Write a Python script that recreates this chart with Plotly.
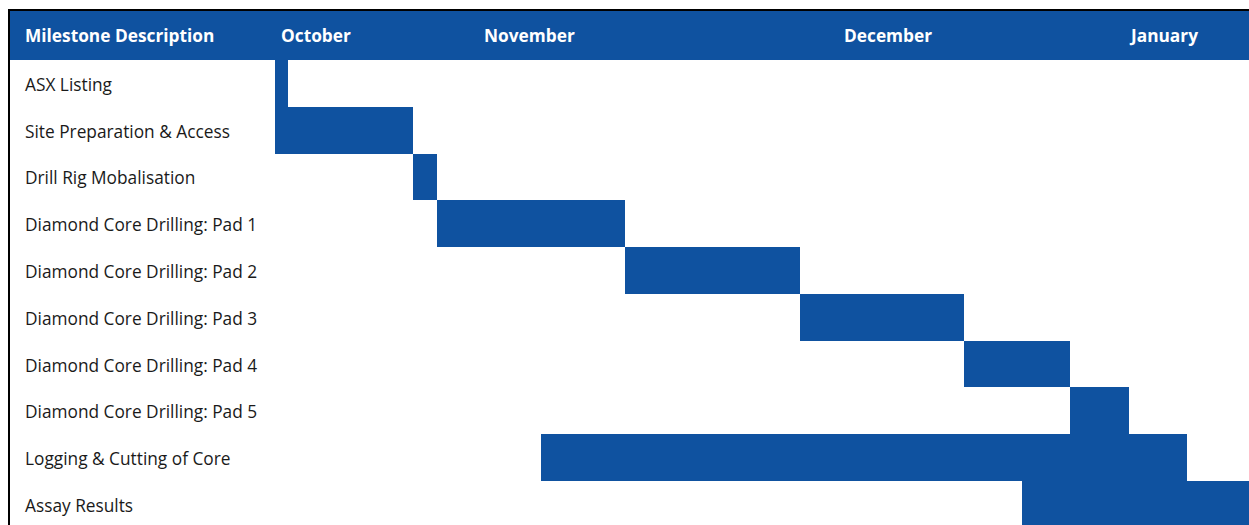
import plotly.graph_objects as go

# Milestones (top to bottom) and their timeline spans (programme timeline units, 0-100)
milestones = [
    "ASX Listing",
    "Site Preparation & Access",
    "Drill Rig Mobalisation",
    "Diamond Core Drilling: Pad 1",
    "Diamond Core Drilling: Pad 2",
    "Diamond Core Drilling: Pad 3",
    "Diamond Core Drilling: Pad 4",
    "Diamond Core Drilling: Pad 5",
    "Logging & Cutting of Core",
    "Assay Results",
]
start = [0.0, 0.0, 14.2, 16.6, 35.9, 53.9, 70.7, 81.6, 27.3, 76.7]
finish = [1.3, 14.2, 16.6, 35.9, 53.9, 70.7, 81.6, 87.7, 93.6, 100.0]

months = ["October", "November", "December", "January"]
month_pos = [0.4, 21.3, 58.2, 87.5]

header_title = "Milestone Description"

BLUE = "#0F52A0"
W, H = 1249, 525
FONT = "Open Sans"
LABEL_SIZE = 17.3
MONTH_SIZE = 17.3


def px_x(p):
    return p / W


def px_y(p):
    return (H - p) / H


rows = list(range(len(milestones)))

fig = go.Figure()
fig.add_trace(go.Bar(
    y=rows,
    x=[f - s for s, f in zip(start, finish)],
    base=start,
    orientation="h",
    width=1.0,
    marker=dict(color=BLUE, line=dict(width=0)),
    hovertext=milestones,
    hoverinfo="text",
    showlegend=False,
))

shapes = [
    # header band
    dict(type="rect", xref="paper", yref="paper",
         x0=px_x(10), x1=1.0, y0=px_y(60), y1=px_y(11),
         fillcolor=BLUE, line=dict(width=0), layer="below"),
    # top frame line
    dict(type="rect", xref="paper", yref="paper",
         x0=px_x(8), x1=1.0, y0=px_y(11), y1=px_y(9),
         fillcolor="black", line=dict(width=0)),
    # left frame line
    dict(type="rect", xref="paper", yref="paper",
         x0=px_x(8), x1=px_x(10), y0=0.0, y1=px_y(9),
         fillcolor="black", line=dict(width=0)),
]

annotations = [
    dict(text=header_title, xref="paper", yref="paper",
         x=px_x(23), y=px_y(35.3), xanchor="left", yanchor="middle",
         showarrow=False,
         font=dict(family=FONT, size=LABEL_SIZE, color="white", weight=700)),
]
for m, pos in zip(months, month_pos):
    annotations.append(dict(
        text=m, xref="x", yref="paper", x=pos, y=px_y(35.3),
        xanchor="left", yanchor="middle", showarrow=False,
        font=dict(family=FONT, size=MONTH_SIZE, color="white", weight=700)))
for i, name in enumerate(milestones):
    annotations.append(dict(
        text=name, xref="paper", yref="y", x=px_x(23), y=i + 0.02,
        xanchor="left", yanchor="middle", showarrow=False,
        font=dict(family=FONT, size=LABEL_SIZE, color="#1a1a1a")))

fig.update_layout(
    width=W, height=H,
    margin=dict(l=0, r=0, t=0, b=0),
    paper_bgcolor="white",
    plot_bgcolor="white",
    bargap=0,
    xaxis=dict(domain=[px_x(275), 1.0], range=[0, 100], visible=False,
               fixedrange=True),
    yaxis=dict(domain=[0.0, px_y(60)], range=[9.44, -0.5], visible=False,
               fixedrange=True),
    shapes=shapes,
    annotations=annotations,
    font=dict(family=FONT),
)

fig.write_html("out.html")
